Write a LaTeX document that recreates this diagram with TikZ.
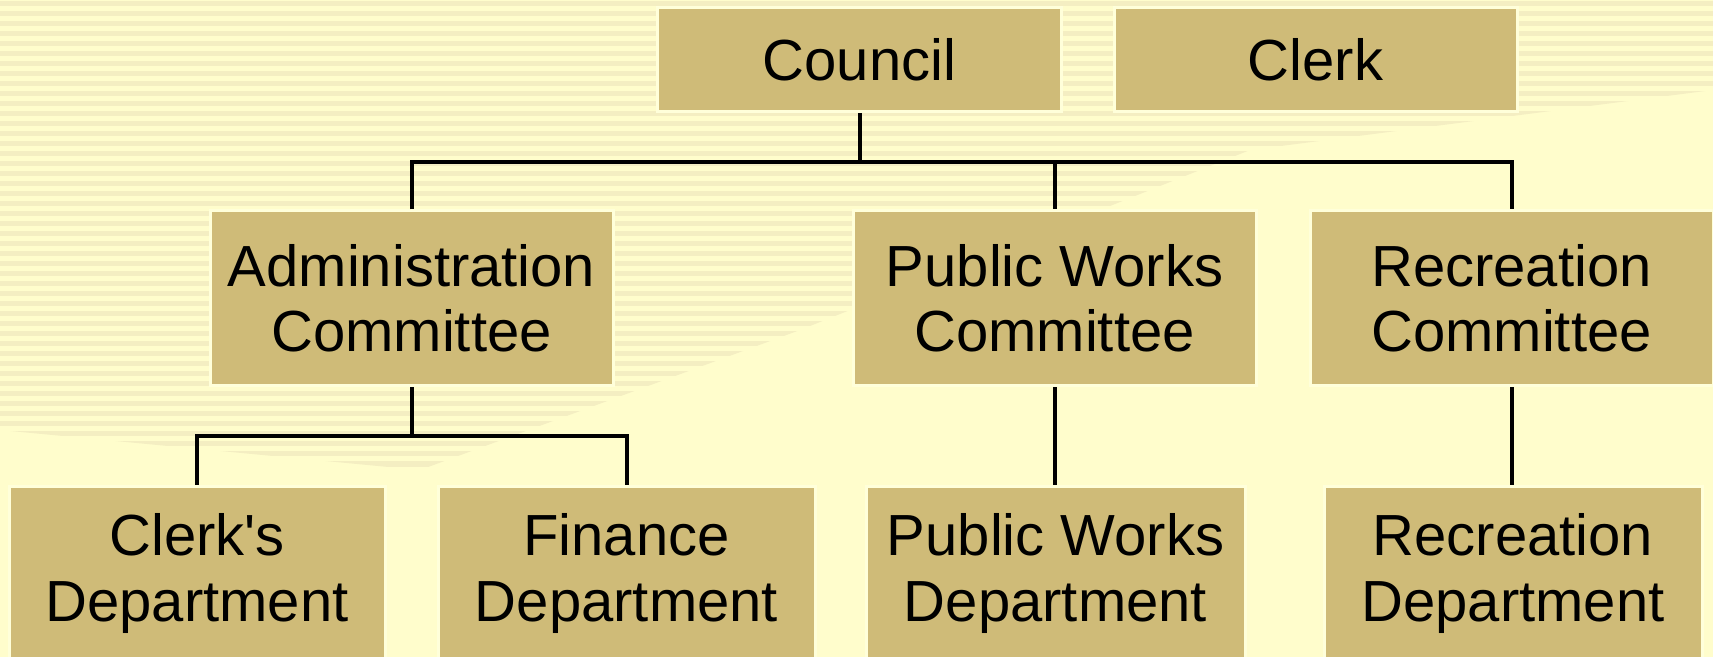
\documentclass[tikz,border=0pt]{standalone}
\usepackage{fontspec}
\setmainfont{Liberation Sans}
\definecolor{bgcream}{HTML}{FFFDCC}
\definecolor{stripe}{HTML}{F4EEC2}
\definecolor{boxtan}{HTML}{CFBB78}
\definecolor{boxedge}{HTML}{FFFFDA}
\tikzset{
  unit/.style={draw=boxedge,line width=1.5pt,fill=boxtan,inner sep=0pt,align=center,minimum height=87.5pt,font=\fontsize{29}{32.75}\selectfont},
  topunit/.style={unit,minimum height=52pt},
  link/.style={line width=2pt,black}
}
\begin{document}
\begin{tikzpicture}[x=0.5pt,y=-0.5pt]
\useasboundingbox (0,0) rectangle (1713,657);
\fill[bgcream] (0,0) rectangle (1713,657);
\begin{scope}
\clip (0,0) -- (1713,0) -- (1713,90) -- (1250,150) -- (800,330) -- (420,470) -- (0,430) -- cycle;
\foreach \y in {4,14,...,654}
{\draw[stripe,line width=2.5pt] (0,\y) -- (1713,\y);}
\end{scope}

\node[topunit,minimum width=202pt] (council) at (859.5,60) {Council};
\node[topunit,minimum width=201.5pt] (clerk) at (1315.5,60) {Clerk};

\node[unit,minimum width=201.5pt] (admin) at (411.5,298.5) {Administration\\Committee};
\node[unit,minimum width=201.5pt] (pwc) at (1054.5,298.5) {Public Works\\Committee};
\node[unit,minimum width=201.5pt] (recc) at (1511.5,298.5) {Recreation\\Committee};

\node[unit,minimum width=188pt] (clerkd) at (197,573.5) {Clerk\textquotesingle s\\Department};
\node[unit,minimum width=188.5pt] (finance) at (626.5,573.5) {Finance\\Department};
\node[unit,minimum width=189.5pt] (pwd) at (1055.5,573.5) {Public Works\\Department};
\node[unit,minimum width=189pt] (recd) at (1513,573.5) {Recreation\\Department};

\draw[link] (council.south) -- ++(0,49) coordinate (bus);
\draw[link] (admin.north) |- (bus) -| (recc.north);
\draw[link] (bus -| pwc.north) -- (pwc.north);
\draw[link] (admin.south) -- ++(0,49) coordinate (abus);
\draw[link] (clerkd.north) |- (abus) -| (finance.north);
\draw[link] (pwc.south) -- (pwc.south |- pwd.north);
\draw[link] (recc.south) -- (recc.south |- recd.north);
\end{tikzpicture}
\end{document}
